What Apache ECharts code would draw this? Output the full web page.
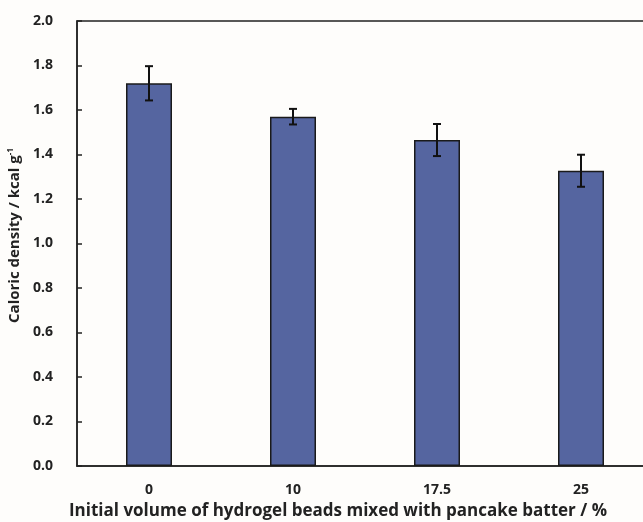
<!DOCTYPE html>
<html><head><meta charset="utf-8">
<script src="https://cdn.jsdelivr.net/npm/echarts@6/dist/echarts.min.js"></script>
<style>html,body{margin:0;padding:0;background:#fefdfb}#c{width:643px;height:522px}</style>
</head><body><div id="c"></div>
<script>
const categories = ['0', '10', '17.5', '25'];
const values = [1.72, 1.57, 1.465, 1.327];
const errors = [0.077, 0.035, 0.072, 0.072];
const yTicks = [0, 0.2, 0.4, 0.6, 0.8, 1.0, 1.2, 1.4, 1.6, 1.8, 2.0];

const chart = echarts.init(document.getElementById('c'));
const font = 'Open Sans';
chart.setOption({
  backgroundColor: '#fefdfb',
  animation: false,
  grid: { left: 77, top: 21, bottom: 56, width: 576, show: true, borderColor: '#222', borderWidth: 1.5, backgroundColor: 'transparent', outerBoundsMode: 'none', containLabel: false },
  xAxis: {
    type: 'category', data: categories,
    axisLine: { lineStyle: { color: '#222', width: 1.5 } },
    axisTick: { inside: true, length: 5, lineStyle: { color: '#222', width: 1.5 } },
    axisLabel: { color: '#222', fontFamily: font, fontWeight: 'bold', fontSize: 14, margin: 17 },
    name: 'Initial volume of hydrogel beads mixed with pancake batter / %',
    nameLocation: 'middle', nameGap: 37,
    nameTextStyle: { color: '#222', fontFamily: font, fontWeight: 'bold', fontSize: 17, padding: [0, 54, 0, 0] }
  },
  yAxis: {
    type: 'value', min: yTicks[0], max: yTicks[yTicks.length - 1], interval: 0.2,
    axisLine: { show: true, lineStyle: { color: '#222', width: 1.5 } },
    axisTick: { show: true, inside: true, length: 5, lineStyle: { color: '#222', width: 1.5 } },
    splitLine: { show: false },
    axisLabel: { color: '#222', fontFamily: font, fontWeight: 'bold', fontSize: 14, margin: 24,
      formatter: v => v.toFixed(1) },
    name: '{a|Caloric density / kcal g}{s|-1}',
    nameLocation: 'middle', nameGap: 43, nameRotate: 90,
    nameTextStyle: { padding: [0, 0, 0, 16], rich: {
      a: { color: '#222', fontFamily: font, fontWeight: 'bold', fontSize: 15, verticalAlign: 'bottom' },
      s: { color: '#222', fontFamily: font, fontWeight: 'bold', fontSize: 8, verticalAlign: 'top', padding: [0,0,6,0] }
    } }
  },
  series: [
    {
      type: 'bar', data: values, barWidth: 46,
      itemStyle: { color: '#5565a0', borderColor: '#1a1a1a', borderWidth: 1.5 }
    },
    {
      type: 'custom',
      data: values.map((v, i) => [i, v - errors[i], v + errors[i]]),
      renderItem: function (params, api) {
        const lo = api.coord([api.value(0), api.value(1)]);
        const hi = api.coord([api.value(0), api.value(2)]);
        const w = 4;
        const st = { stroke: '#111', lineWidth: 2 };
        return { type: 'group', children: [
          { type: 'line', shape: { x1: lo[0], y1: lo[1], x2: hi[0], y2: hi[1] }, style: st },
          { type: 'line', shape: { x1: lo[0]-w, y1: lo[1], x2: lo[0]+w, y2: lo[1] }, style: st },
          { type: 'line', shape: { x1: hi[0]-w, y1: hi[1], x2: hi[0]+w, y2: hi[1] }, style: st }
        ] };
      },
      z: 10
    }
  ]
});
</script></body></html>
